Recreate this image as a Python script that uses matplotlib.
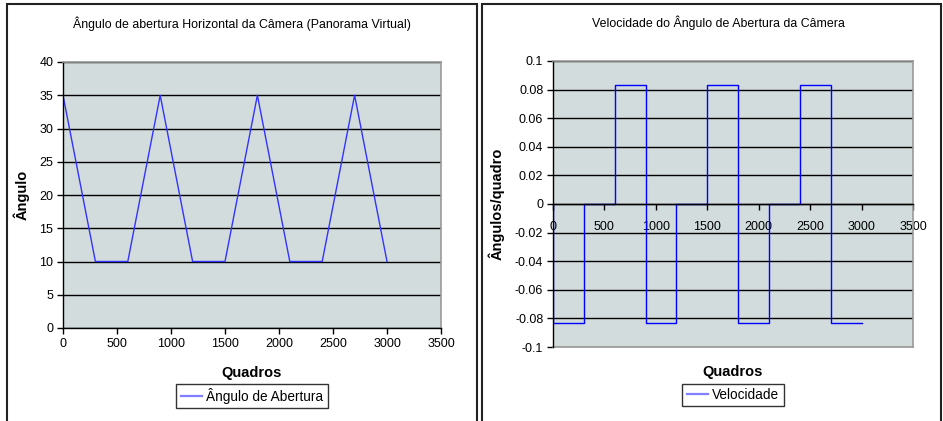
import matplotlib.pyplot as plt
from matplotlib.patches import Rectangle

plt.rcParams['font.family'] = ['Liberation Sans', 'DejaVu Sans']

# Ângulo de abertura (graus) nos quadros de mudança
ang_quadros = [0, 300, 600, 900, 1200, 1500, 1800, 2100, 2400, 2700, 3000]
ang_valores = [35, 10, 10, 35, 10, 10, 35, 10, 10, 35, 10]

# Velocidade (graus/quadro), constante a partir de cada quadro
vel_quadros = [0, 0, 300, 600, 900, 1200, 1500, 1800, 2100, 2400, 2700, 3000]
vel_valores = [0, -0.0833, 0, 0.0833, -0.0833, 0, 0.0833, -0.0833, 0, 0.0833, -0.0833, -0.0833]

x_ticks = [0, 500, 1000, 1500, 2000, 2500, 3000, 3500]
ang_ticks = [0, 5, 10, 15, 20, 25, 30, 35, 40]
vel_ticks = [-0.1, -0.08, -0.06, -0.04, -0.02, 0, 0.02, 0.04, 0.06, 0.08, 0.1]

W, H = 943, 421
fundo = '#D2DCDC'

fig = plt.figure(figsize=(W / 100, H / 100), dpi=100)
fig.patch.set_facecolor('white')


def px(x0, y0, x1, y1):
    # caixa em pixels -> coordenadas da figura
    return [x0 / W, 1 - y1 / H, (x1 - x0) / W, (y1 - y0) / H]


# molduras dos dois gráficos
for x0, x1 in [(7, 477), (482, 941)]:
    fig.add_artist(Rectangle((x0 / W, -0.05), (x1 - x0) / W, 1.05 - 4 / H,
                             transform=fig.transFigure, fill=False,
                             edgecolor='#222222', linewidth=1.5))


def estilo(ax):
    ax.set_facecolor(fundo)
    ax.grid(axis='y', color='black', linewidth=1.0)
    ax.set_axisbelow(True)
    for lado in ['top', 'right']:
        ax.spines[lado].set_color('#9A9A9A')
        ax.spines[lado].set_linewidth(1.2)
    for lado in ['left', 'bottom']:
        ax.spines[lado].set_color('black')
        ax.spines[lado].set_linewidth(1.0)
    ax.tick_params(labelsize=9, length=4, width=1, color='black', pad=3)
    ax.set_xlim(0, 3500)
    ax.set_xticks(x_ticks)


def legenda(ax, y):
    leg = ax.legend(loc='center', bbox_to_anchor=(0.5, y), fontsize=9.8,
                    frameon=True, fancybox=False, edgecolor='black',
                    handlelength=1.6, borderpad=0.3, handletextpad=0.3)
    leg.get_frame().set_linewidth(1.0)
    leg.get_lines()[0].set_color('#7F7FFF')
    leg.get_lines()[0].set_linewidth(1.6)


# --- Ângulo de abertura ---
ax1 = fig.add_axes(px(63, 62, 441, 328))
estilo(ax1)
ax1.plot(ang_quadros, ang_valores, color='#3333FF', linewidth=1.0,
         label='Ângulo de Abertura')
ax1.set_ylim(0, 40)
ax1.set_yticks(ang_ticks)
ax1.set_yticklabels([str(v) for v in ang_ticks])
ax1.set_xticklabels([str(v) for v in x_ticks])
ax1.xaxis.set_label_coords(0.5, -0.143)
ax1.set_xlabel('Quadros', fontsize=10.5, fontweight='bold')
ax1.yaxis.set_label_coords(-0.087, 0.5)
ax1.set_ylabel('Ângulo', fontsize=10.5, fontweight='bold')
fig.text(242 / W, 1 - 24 / H, 'Ângulo de abertura Horizontal da Câmera (Panorama Virtual)',
         ha='center', va='center', fontsize=8.9)
legenda(ax1, -0.255)

# --- Velocidade ---
ax2 = fig.add_axes(px(553, 61, 913, 347))
estilo(ax2)
ax2.step(vel_quadros, vel_valores, where='post', color='#0000FF', linewidth=1.0,
         label='Velocidade')
ax2.set_ylim(-0.1, 0.1)
ax2.set_yticks(vel_ticks)
ax2.set_yticklabels(['0' if v == 0 else f'{v:g}' for v in vel_ticks])
ax2.spines['bottom'].set_position(('data', 0))
ax2.set_xticklabels([str(v) for v in x_ticks])
ax2.tick_params(axis='x', direction='out', length=4, pad=8)
ax2.xaxis.set_label_coords(0.5, -0.063)
ax2.set_xlabel('Quadros', fontsize=10.5, fontweight='bold')
ax2.yaxis.set_label_coords(-0.133, 0.5)
ax2.set_ylabel('Ângulos/quadro', fontsize=10.5, fontweight='bold')
# borda inferior da área de plotagem
ax2.axhline(-0.1, color='#9A9A9A', linewidth=1.2, clip_on=False)
fig.text(718 / W, 1 - 23 / H, 'Velocidade do Ângulo de Abertura da Câmera',
         ha='center', va='center', fontsize=8.9)
legenda(ax2, -0.168)

fig.savefig('out.png', dpi=100)
